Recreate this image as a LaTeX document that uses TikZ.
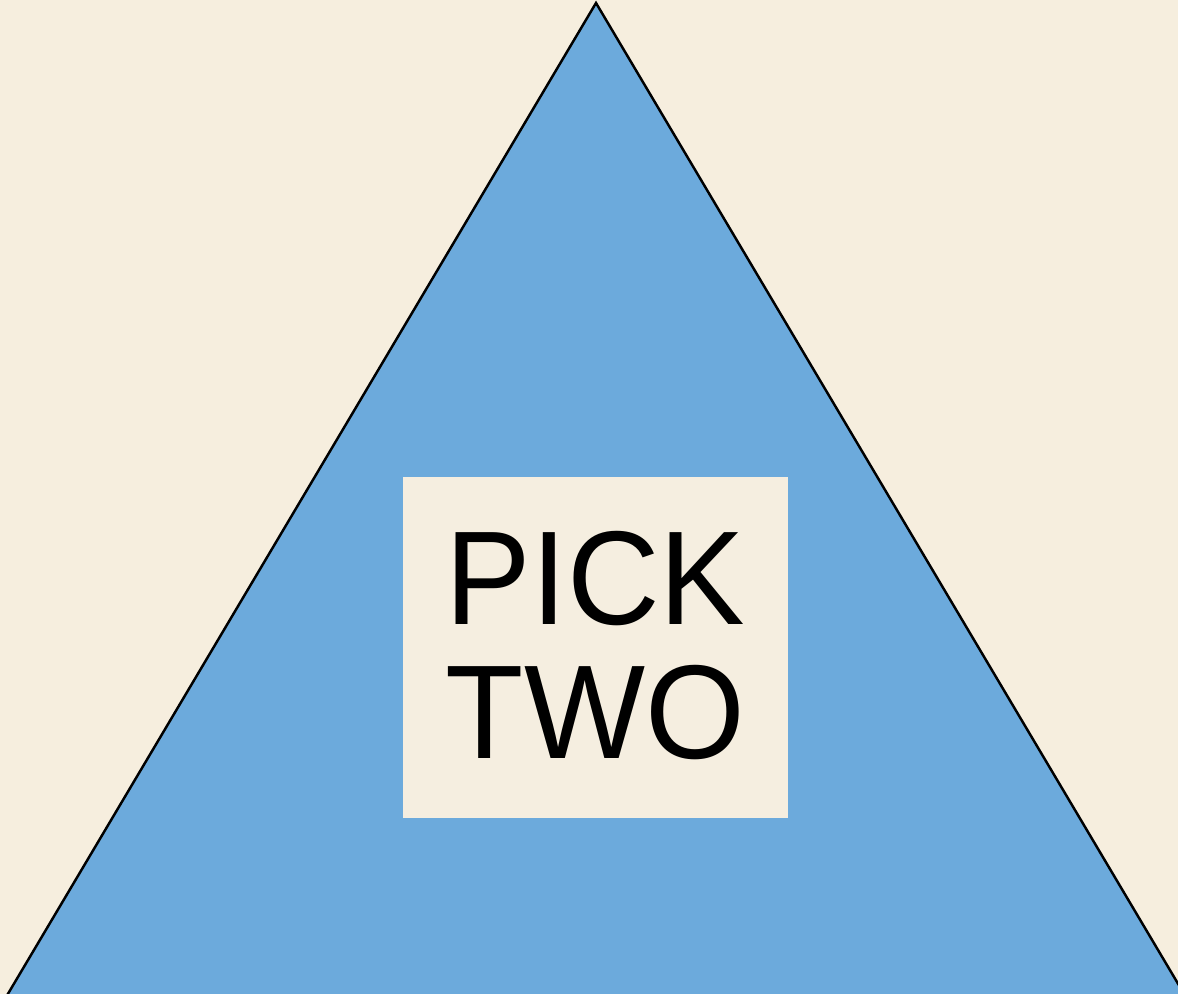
\documentclass[tikz,border=0pt]{standalone}
\usepackage{fontspec}
\setmainfont{Liberation Sans}
\newfontfamily\pickfont[FakeStretch=0.96]{Liberation Sans}
\usepackage{tikz}
\definecolor{paper}{RGB}{246,238,222}
\definecolor{skyblue}{RGB}{108,170,220}
\definecolor{boxfill}{RGB}{245,238,224}

\begin{document}
\begin{tikzpicture}[
  tri/.style={fill=skyblue, draw=black, line width=0.7pt, line join=miter},
  label/.style={fill=boxfill, minimum width=3.85cm, minimum height=3.41cm,
                inner sep=0pt, align=center,
                font=\pickfont\fontsize{38}{38.2}\selectfont}
]

% page
\useasboundingbox (0,0) rectangle (11.78,9.94);
\fill[paper] (0,0) rectangle (11.78,9.94);

% corners of the triangle (base sits below the page edge)
\coordinate (apex) at (5.96,9.91);
\coordinate (left) at (-0.04,-0.2);
\coordinate (right) at (11.96,-0.2);

\begin{scope}
  \clip (0,0) rectangle (11.78,9.94);
  \draw[tri] (left) -- (apex) -- (right) -- cycle;
\end{scope}

% text box
\node[label] (pick) at (5.955,3.465) {};
\node[align=center, inner sep=0pt, font=\pickfont\fontsize{38}{38.2}\selectfont]
  (picktext) at ([yshift=0.02cm]pick.center) {PICK\\TWO};

\end{tikzpicture}
\end{document}
